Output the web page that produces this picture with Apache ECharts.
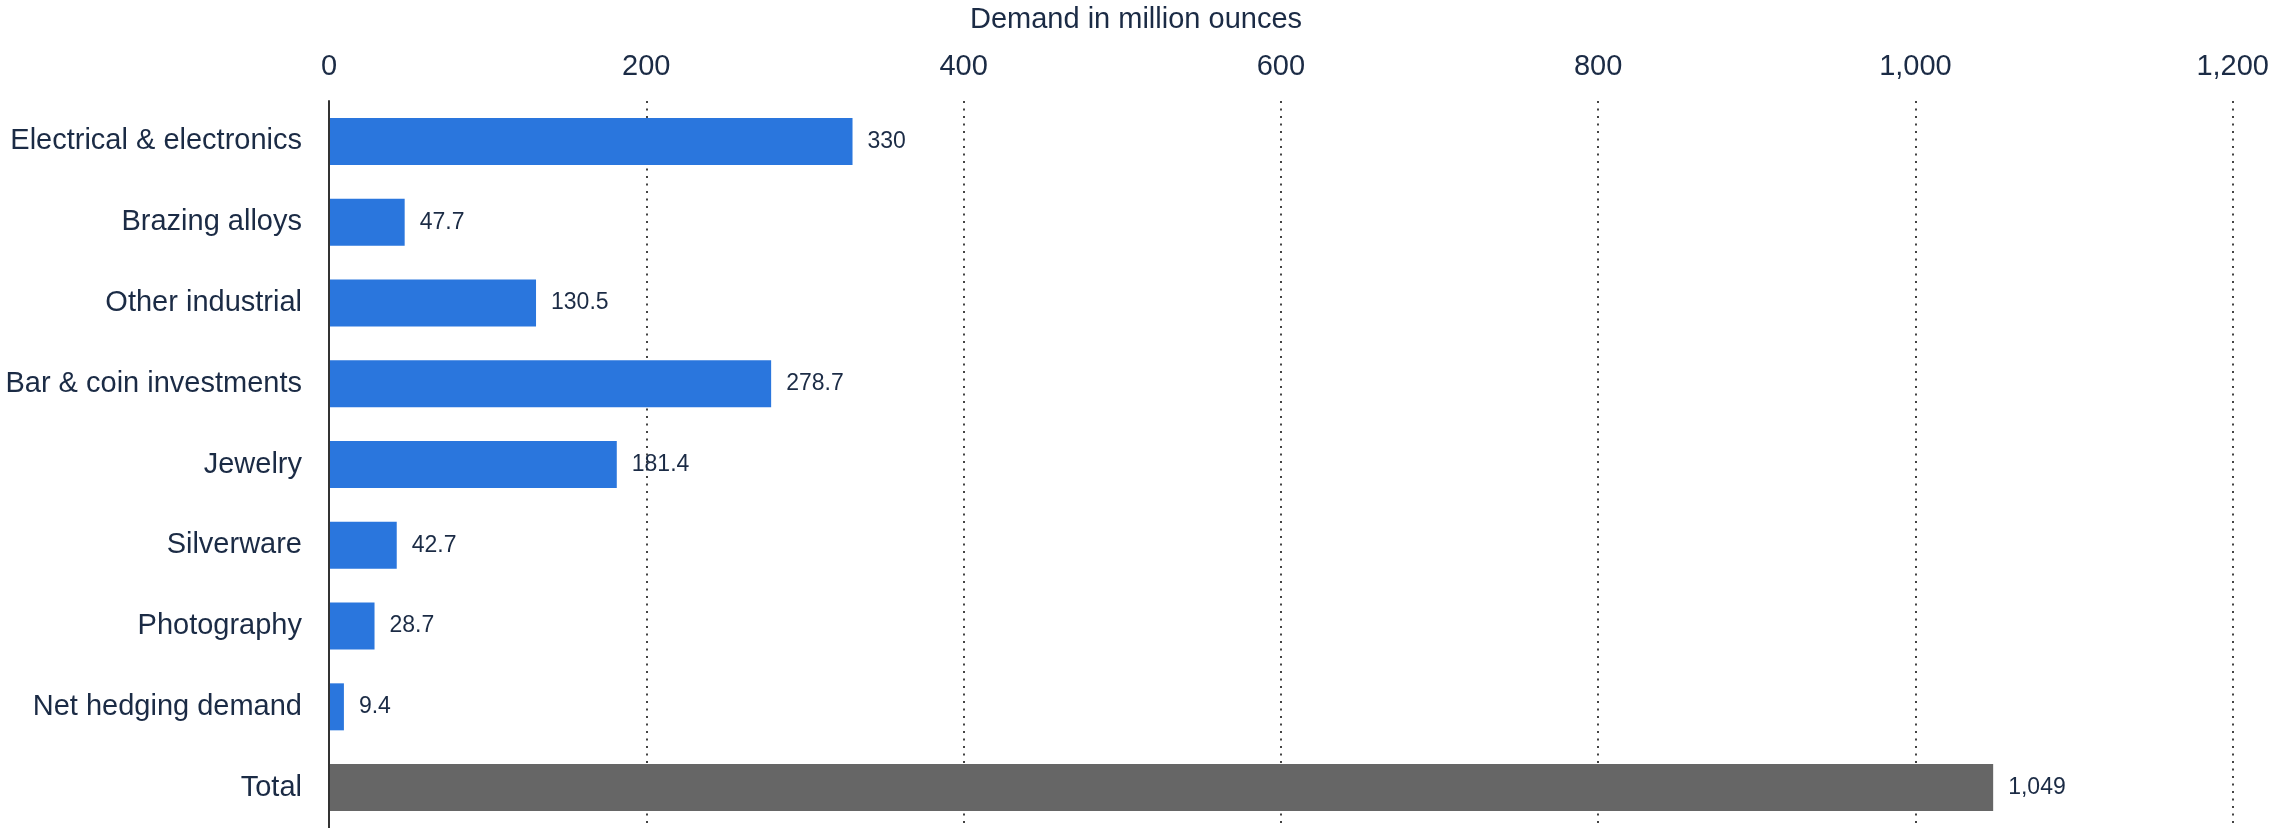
<!DOCTYPE html>
<html>
<head>
<meta charset="utf-8">
<script src="https://cdn.jsdelivr.net/npm/echarts@6/dist/echarts.min.js"></script>
<style>
html,body{margin:0;padding:0;background:#fff;}
#chart{width:2272px;height:828px;}
</style>
</head>
<body>
<div id="chart"></div>
<script>
const categories = ["Electrical & electronics","Brazing alloys","Other industrial","Bar & coin investments","Jewelry","Silverware","Photography","Net hedging demand","Total"];
const values = [330, 47.7, 130.5, 278.7, 181.4, 42.7, 28.7, 9.4, 1049];
const axisTitle = "Demand in million ounces";
const xTicks = {min: 0, max: 1200, interval: 200};

const TEXT = '#1b2b45';
const FONT = '"Liberation Sans", Arial, sans-serif';
const fmt = v => Number(v).toLocaleString('en-US');

const chart = echarts.init(document.getElementById('chart'), null, {renderer: 'canvas'});
chart.setOption({
  animation: false,
  backgroundColor: '#ffffff',
  textStyle: {fontFamily: FONT},
  title: {
    text: axisTitle,
    left: 'center',
    top: 0,
    textStyle: {fontFamily: FONT, fontSize: 29, fontWeight: 'normal', color: TEXT}
  },
  grid: {left: 329, right: 39, top: 101, height: 732, containLabel: false},
  xAxis: {
    type: 'value',
    position: 'top',
    min: xTicks.min, max: xTicks.max, interval: xTicks.interval,
    axisLine: {show: false},
    axisTick: {show: false},
    axisLabel: {fontFamily: FONT, fontSize: 29, color: TEXT, margin: 20, formatter: fmt},
    splitLine: {show: true, lineStyle: {color: '#444', width: 2, type: [2, 5.5]}}
  },
  yAxis: {
    type: 'category',
    inverse: true,
    data: categories,
    z: 5,
    axisLine: {show: true, lineStyle: {color: '#333', width: 2}},
    axisTick: {show: false},
    axisLabel: {fontFamily: FONT, fontSize: 29, color: TEXT, margin: 27}
  },
  series: [{
    type: 'bar',
    barWidth: 47,
    data: values.map((v, i) => ({
      value: v,
      itemStyle: {color: categories[i] === 'Total' ? '#666666' : '#2a76dd'}
    })),
    label: {
      show: true,
      position: 'right',
      distance: 15,
      fontFamily: FONT,
      fontSize: 23,
      color: TEXT,
      formatter: p => fmt(p.value)
    }
  }]
});
</script>
</body>
</html>
